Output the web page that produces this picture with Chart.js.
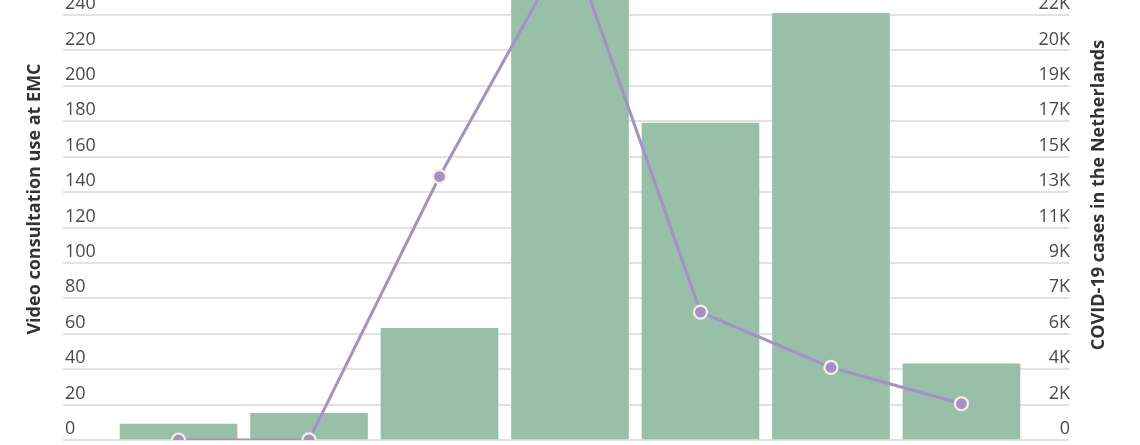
<!DOCTYPE html>
<html>
<head>
<meta charset="utf-8">
<script src="https://cdn.jsdelivr.net/npm/chart.js@4.4.1/dist/chart.umd.min.js"></script>
<style>
    html, body { margin: 0; padding: 0; background: #fff; overflow: hidden; }
    #box { position: relative; width: 1140px; height: 445px; }
</style>
</head>
<body>
<div id="box"><canvas id="chart"></canvas></div>
<script>
// months of 2020 (x labels fall outside the picture)
const months = ['Jan', 'Feb', 'Mar', 'Apr', 'May', 'Jun', 'Jul'];
const videoConsults = [9, 15, 63, 255, 179, 241, 43];
const covidCases = [0, 7, 13800, 26100, 6700, 3800, 1900];

const leftTicks = [0, 20, 40, 60, 80, 100, 120, 140, 160, 180, 200, 220, 240];
const rightStep = 1855;   // one left step (20) on the right axis
const leftTitle = 'Video consultation use at EMC';
const rightTitle = 'COVID-19 cases in the Netherlands';

const Y_MAX = 248.5;

const tickFont = { family: '"Open Sans", sans-serif', size: 18 };

// both titles read bottom to top
const axisTitles = {
    id: 'axisTitles',
    afterDraw(chart) {
        const ctx = chart.ctx;
        ctx.save();
        ctx.font = 'bold 18px "Open Sans", sans-serif';
        ctx.fillStyle = '#333';
        ctx.textAlign = 'center';
        ctx.textBaseline = 'middle';
        [[35, 199, leftTitle], [1099, 195, rightTitle]].forEach(([x, y, t]) => {
            ctx.save();
            ctx.translate(x, y);
            ctx.rotate(-Math.PI / 2);
            ctx.fillText(t, 0, 0);
            ctx.restore();
        });
        ctx.restore();
    }
};

function flatAxis(s) {
    s.width = 0;
    s.paddingTop = 0;
    s.paddingBottom = 0;
}

new Chart(document.getElementById('chart'), {
    type: 'bar',
    data: {
        datasets: [{
            type: 'line',
            label: rightTitle,
            data: covidCases.map((v, i) => ({ x: i, y: v })),
            yAxisID: 'y1',
            borderColor: '#a590c7',
            borderWidth: 3,
            pointRadius: 6.5,
            pointBorderWidth: 2.2,
            pointBackgroundColor: '#a68fc6',
            pointBorderColor: '#f4f0e0',
            tension: 0,
            order: 0
        }, {
            label: leftTitle,
            data: videoConsults.map((v, i) => ({ x: i, y: v })),
            yAxisID: 'y',
            backgroundColor: '#98c0a8',
            barThickness: 117,
            order: 1
        }]
    },
    options: {
        responsive: true,
        maintainAspectRatio: false,
        animation: false,
        layout: { autoPadding: false, padding: { left: 63, right: 71, top: 0, bottom: 5 } },
        plugins: {
            legend: { display: false },
            tooltip: { enabled: false }
        },
        scales: {
            x: {
                type: 'linear',
                offset: false,
                min: -0.885,
                max: 6.824,
                display: false
            },
            y: {
                position: 'left',
                min: 0,
                max: Y_MAX,
                afterFit: flatAxis,
                afterBuildTicks: s => { s.ticks = leftTicks.map(v => ({ value: v })); },
                border: { display: false },
                grid: { color: '#e2e2e2', lineWidth: 2, drawTicks: false },
                ticks: {
                    mirror: true,
                    padding: 2,
                    labelOffset: -11,
                    color: '#4a4a4a',
                    font: tickFont
                }
            },
            y1: {
                position: 'right',
                min: 0,
                max: Y_MAX * rightStep / 20,
                afterFit: flatAxis,
                afterBuildTicks: s => { s.ticks = leftTicks.map(v => ({ value: v / 20 * rightStep })); },
                border: { display: false },
                grid: { display: false },
                ticks: {
                    mirror: true,
                    padding: 1,
                    labelOffset: -11,
                    color: '#4a4a4a',
                    font: tickFont,
                    callback: v => v === 0 ? '0' : Math.round(v / 1000) + 'K'
                }
            }
        }
    },
    plugins: [axisTitles]
});
</script>
</body>
</html>
